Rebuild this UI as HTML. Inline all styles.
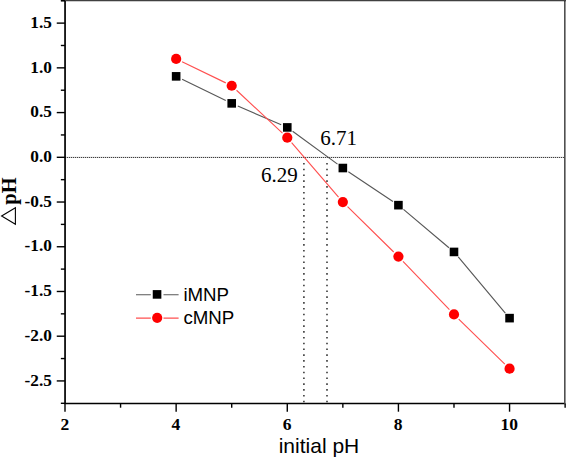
<!DOCTYPE html><html><head><meta charset="utf-8"><style>html,body{margin:0;padding:0;background:#fff;overflow:hidden;}svg{display:block;}.ser{font-family:"Liberation Serif",serif;}.sans{font-family:"Liberation Sans",sans-serif;}</style></head><body>
<svg width="566" height="457" viewBox="0 0 566 457">
<rect width="566" height="457" fill="#fff"/>
<line x1="65.05" y1="157.4" x2="566" y2="157.4" stroke="#d0d0d0" stroke-width="1.3"/>
<line x1="65.05" y1="157.4" x2="566" y2="157.4" stroke="#383838" stroke-width="1.05" stroke-dasharray="1 1"/>
<line x1="303.9" y1="162.9" x2="303.9" y2="403.5" stroke="#3a3a3a" stroke-width="1.6" stroke-dasharray="1.6 4.2"/>
<line x1="327.0" y1="162.9" x2="327.0" y2="403.5" stroke="#3a3a3a" stroke-width="1.6" stroke-dasharray="1.6 4.2"/>
<path d="M182.08,79.23L225.77,100.48M237.77,105.98L281.22,124.80M292.61,131.32L337.52,164.14M348.34,171.70L392.93,201.49M403.47,209.41L448.94,247.69M458.23,256.99L505.32,313.08" fill="none" stroke="#585858" stroke-width="1.15"/>
<path d="M182.08,61.78L225.77,82.87M236.53,90.25L282.46,133.20M291.60,142.70L338.53,197.03M347.56,206.65L393.71,251.97M402.99,261.35L449.42,309.70M458.71,319.07L504.84,364.06" fill="none" stroke="#ff5050" stroke-width="1.15"/>
<rect x="171.84" y="72.05" width="8.6" height="8.6" fill="#000"/>
<rect x="227.41" y="99.06" width="8.6" height="8.6" fill="#000"/>
<rect x="282.98" y="123.12" width="8.6" height="8.6" fill="#000"/>
<rect x="338.55" y="163.73" width="8.6" height="8.6" fill="#000"/>
<rect x="394.12" y="200.86" width="8.6" height="8.6" fill="#000"/>
<rect x="449.69" y="247.64" width="8.6" height="8.6" fill="#000"/>
<rect x="505.26" y="313.83" width="8.6" height="8.6" fill="#000"/>
<circle cx="176.14" cy="58.91" r="5.1" fill="#ff0000"/>
<circle cx="231.71" cy="85.74" r="5.1" fill="#ff0000"/>
<circle cx="287.28" cy="137.71" r="5.1" fill="#ff0000"/>
<circle cx="342.85" cy="202.03" r="5.1" fill="#ff0000"/>
<circle cx="398.42" cy="256.59" r="5.1" fill="#ff0000"/>
<circle cx="453.99" cy="314.46" r="5.1" fill="#ff0000"/>
<circle cx="509.56" cy="368.67" r="5.1" fill="#ff0000"/>
<path d="M65.05,0 V403.5 H564" fill="none" stroke="#000" stroke-width="1.7"/>
<rect x="564" y="0" width="1" height="404.4" fill="#505050"/><rect x="565" y="0" width="1" height="404.4" fill="#949494"/>
<rect x="60.9" y="0" width="505.1" height="1" fill="#404040"/><rect x="60.9" y="1" width="505.1" height="0.4" fill="#000" fill-opacity="0.5"/>
<line x1="60.85" y1="403.29" x2="65.05" y2="403.29" stroke="#000" stroke-width="1.4"/>
<line x1="56.75" y1="380.93" x2="65.05" y2="380.93" stroke="#000" stroke-width="1.4"/>
<text class="ser" x="51.9" y="385.62" font-size="17.3" font-weight="bold" text-anchor="end">-2.5</text>
<line x1="60.85" y1="358.56" x2="65.05" y2="358.56" stroke="#000" stroke-width="1.4"/>
<line x1="56.75" y1="336.20" x2="65.05" y2="336.20" stroke="#000" stroke-width="1.4"/>
<text class="ser" x="51.9" y="340.90" font-size="17.3" font-weight="bold" text-anchor="end">-2.0</text>
<line x1="60.85" y1="313.84" x2="65.05" y2="313.84" stroke="#000" stroke-width="1.4"/>
<line x1="56.75" y1="291.48" x2="65.05" y2="291.48" stroke="#000" stroke-width="1.4"/>
<text class="ser" x="51.9" y="296.18" font-size="17.3" font-weight="bold" text-anchor="end">-1.5</text>
<line x1="60.85" y1="269.11" x2="65.05" y2="269.11" stroke="#000" stroke-width="1.4"/>
<line x1="56.75" y1="246.75" x2="65.05" y2="246.75" stroke="#000" stroke-width="1.4"/>
<text class="ser" x="51.9" y="251.45" font-size="17.3" font-weight="bold" text-anchor="end">-1.0</text>
<line x1="60.85" y1="224.39" x2="65.05" y2="224.39" stroke="#000" stroke-width="1.4"/>
<line x1="56.75" y1="202.03" x2="65.05" y2="202.03" stroke="#000" stroke-width="1.4"/>
<text class="ser" x="51.9" y="206.72" font-size="17.3" font-weight="bold" text-anchor="end">-0.5</text>
<line x1="60.85" y1="179.66" x2="65.05" y2="179.66" stroke="#000" stroke-width="1.4"/>
<line x1="56.75" y1="157.30" x2="65.05" y2="157.30" stroke="#000" stroke-width="1.4"/>
<text class="ser" x="51.9" y="162.00" font-size="17.3" font-weight="bold" text-anchor="end">0.0</text>
<line x1="60.85" y1="134.94" x2="65.05" y2="134.94" stroke="#000" stroke-width="1.4"/>
<line x1="56.75" y1="112.58" x2="65.05" y2="112.58" stroke="#000" stroke-width="1.4"/>
<text class="ser" x="51.9" y="117.28" font-size="17.3" font-weight="bold" text-anchor="end">0.5</text>
<line x1="60.85" y1="90.21" x2="65.05" y2="90.21" stroke="#000" stroke-width="1.4"/>
<line x1="56.75" y1="67.85" x2="65.05" y2="67.85" stroke="#000" stroke-width="1.4"/>
<text class="ser" x="51.9" y="72.55" font-size="17.3" font-weight="bold" text-anchor="end">1.0</text>
<line x1="60.85" y1="45.49" x2="65.05" y2="45.49" stroke="#000" stroke-width="1.4"/>
<line x1="56.75" y1="23.12" x2="65.05" y2="23.12" stroke="#000" stroke-width="1.4"/>
<text class="ser" x="51.9" y="27.82" font-size="17.3" font-weight="bold" text-anchor="end">1.5</text>
<line x1="60.85" y1="0.76" x2="65.05" y2="0.76" stroke="#000" stroke-width="1.4"/>
<line x1="65.00" y1="403.5" x2="65.00" y2="411.70" stroke="#000" stroke-width="1.4"/>
<text class="ser" x="64.80" y="430.3" font-size="17.5" font-weight="bold" text-anchor="middle">2</text>
<line x1="120.57" y1="403.5" x2="120.57" y2="407.70" stroke="#000" stroke-width="1.4"/>
<line x1="176.14" y1="403.5" x2="176.14" y2="411.70" stroke="#000" stroke-width="1.4"/>
<text class="ser" x="175.94" y="430.3" font-size="17.5" font-weight="bold" text-anchor="middle">4</text>
<line x1="231.71" y1="403.5" x2="231.71" y2="407.70" stroke="#000" stroke-width="1.4"/>
<line x1="287.28" y1="403.5" x2="287.28" y2="411.70" stroke="#000" stroke-width="1.4"/>
<text class="ser" x="287.08" y="430.3" font-size="17.5" font-weight="bold" text-anchor="middle">6</text>
<line x1="342.85" y1="403.5" x2="342.85" y2="407.70" stroke="#000" stroke-width="1.4"/>
<line x1="398.42" y1="403.5" x2="398.42" y2="411.70" stroke="#000" stroke-width="1.4"/>
<text class="ser" x="398.22" y="430.3" font-size="17.5" font-weight="bold" text-anchor="middle">8</text>
<line x1="453.99" y1="403.5" x2="453.99" y2="407.70" stroke="#000" stroke-width="1.4"/>
<line x1="509.56" y1="403.5" x2="509.56" y2="411.70" stroke="#000" stroke-width="1.4"/>
<text class="ser" x="509.36" y="430.3" font-size="17.5" font-weight="bold" text-anchor="middle">10</text>
<line x1="565.13" y1="403.5" x2="565.13" y2="407.70" stroke="#000" stroke-width="1.4"/>
<text class="ser" x="320.3" y="145.0" font-size="21">6.71</text>
<text class="ser" x="261.0" y="182.2" font-size="21">6.29</text>
<path d="M136,294.7H150.8M163.5,294.7H178.6" stroke="#585858" stroke-width="1.05"/>
<rect x="152.75" y="290.10" width="8.6" height="8.6" fill="#000"/>
<path d="M136,318.1H150.8M163.5,318.1H178.6" stroke="#ff5050" stroke-width="1.05"/>
<circle cx="157.2" cy="317.8" r="5.1" fill="#ff0000"/>
<text class="sans" x="183.4" y="300.8" font-size="18.7">iMNP</text>
<text class="sans" x="183.4" y="324.2" font-size="18.7">cMNP</text>
<text class="sans" x="278.7" y="452.5" font-size="21">initial pH</text>
<g transform="translate(15.75 0) rotate(-90)">
<text class="ser" x="-204.76" y="0" font-size="20.5" font-weight="bold">pH</text>
</g>
<path d="M1.6,216 L15.4,207.7 L15.4,224.3 Z" fill="none" stroke="#000" stroke-width="1.1" stroke-linejoin="miter"/>
</svg></body></html>
